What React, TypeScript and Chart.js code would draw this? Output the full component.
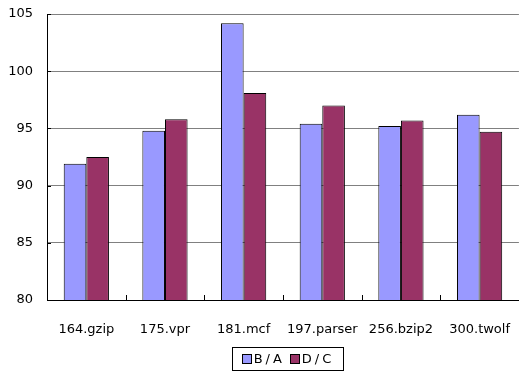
import React, { useEffect, useRef } from 'react';
import { Chart, registerables } from 'chart.js';
Chart.register(...registerables);

const categories = ['164.gzip', '175.vpr', '181.mcf', '197.parser', '256.bzip2', '300.twolf'];
const seriesNames = ['B/A', 'D/C'];
const seriesBA = [91.9, 94.8, 104.2, 95.4, 95.2, 96.2];
const seriesDC = [92.5, 95.8, 98.1, 97.0, 95.7, 94.7];
const yMin = 80;
const yMax = 105;
const yStep = 5;

const colors = ['#9999FF', '#993366'];
const FONT = '"DejaVu Sans", sans-serif';

const innerTicksPlugin = {
  id: 'innerTicks',
  afterDraw(chart: any) {
    const xs = chart.scales.x;
    const ys = chart.scales.y;
    const ctx = chart.ctx;
    const { bottom, left } = chart.chartArea;
    const step = xs.getPixelForValue(1) - xs.getPixelForValue(0);
    ctx.save();
    ctx.strokeStyle = '#000';
    ctx.lineWidth = 1;
    for (let i = 1; i < categories.length; i++) {
      const x = Math.round(xs.getPixelForValue(i) - step / 2) + 0.5;
      ctx.beginPath();
      ctx.moveTo(x, bottom);
      ctx.lineTo(x, bottom - 5);
      ctx.stroke();
    }
    ys.ticks.forEach((t: any) => {
      const y = Math.round(ys.getPixelForValue(t.value)) + 0.5;
      ctx.beginPath();
      ctx.moveTo(left, y);
      ctx.lineTo(left + 4, y);
      ctx.stroke();
    });
    ctx.restore();
  },
};

const boxLegendPlugin = {
  id: 'boxLegend',
  afterDraw(chart: any) {
    const ctx = chart.ctx;
    ctx.save();
    ctx.font = `13px ${FONT}`;
    (ctx as any).letterSpacing = '3px';
    const sq = 10;
    const gap = 2;
    const itemGap = 5;
    const widths = seriesNames.map((n) => ctx.measureText(n).width);
    const total = widths.reduce((a, w) => a + sq + gap + w, 0) + itemGap * (seriesNames.length - 1);
    const padX = 5;
    const boxW = Math.max(111, total + padX * 2);
    const boxH = 23;
    const boxLeft = 232.5;
    const boxTop = 347.5;
    ctx.strokeStyle = '#000';
    ctx.lineWidth = 1;
    ctx.strokeRect(boxLeft, boxTop, Math.round(boxW), boxH);
    let x = boxLeft + padX + (boxW - padX * 2 - total) / 2;
    const cy = boxTop + boxH / 2;
    seriesNames.forEach((n, i) => {
      const sx = Math.round(x);
      const sy = Math.round(cy - sq / 2);
      ctx.fillStyle = colors[i];
      ctx.fillRect(sx, sy, sq, sq);
      ctx.strokeStyle = '#000';
      ctx.strokeRect(sx + 0.5, sy + 0.5, sq - 1, sq - 1);
      x += sq + gap;
      ctx.fillStyle = '#000';
      ctx.textBaseline = 'middle';
      ctx.textAlign = 'left';
      ctx.fillText(n, x, cy + 0.5);
      x += widths[i] + itemGap;
    });
    ctx.restore();
  },
};

export default function App() {
  const ref = useRef<HTMLCanvasElement | null>(null);
  useEffect(() => {
    if (!ref.current) return;
    const chart = new Chart(ref.current, {
      type: 'bar',
      data: {
        labels: categories,
        datasets: [
          {
            label: seriesNames[0],
            data: seriesBA,
            backgroundColor: colors[0],
            borderColor: '#000',
            borderWidth: 1,
            borderSkipped: 'bottom',
          },
          {
            label: seriesNames[1],
            data: seriesDC,
            backgroundColor: colors[1],
            borderColor: '#000',
            borderWidth: 1,
            borderSkipped: 'bottom',
          },
        ],
      },
      options: {
        responsive: false,
        animation: false,
        layout: { padding: { top: 14, bottom: 26, left: 0, right: -4 } },
        datasets: { bar: { categoryPercentage: 0.575, barPercentage: 1 } },
        plugins: { legend: { display: false }, tooltip: { enabled: false } },
        scales: {
          x: {
            grid: { display: false },
            border: { display: true, color: '#000', width: 1 },
            ticks: {
              color: '#000',
              font: { family: FONT, size: 13 },
              padding: 14,
              maxRotation: 0,
              autoSkip: false,
            },
            afterFit: (s: any) => {
              s.height = 47;
            },
          },
          y: {
            min: yMin,
            max: yMax,
            ticks: {
              stepSize: yStep,
              color: '#000',
              font: { family: FONT, size: 13 },
              padding: 5,
            },
            grid: { color: '#808080', tickColor: 'rgba(0,0,0,0)', tickLength: 9, lineWidth: 1 },
            border: { display: true, color: '#000', width: 1 },
            afterFit: (s: any) => {
              s.width = 47;
            },
          },
        },
      },
      plugins: [innerTicksPlugin, boxLegendPlugin],
    });
    return () => chart.destroy();
  }, []);
  return (
    <div style={{ position: 'absolute', left: 0, top: 0, width: 524, height: 373, background: '#fff' }}>
      <canvas ref={ref} width={524} height={373} />
    </div>
  );
}
